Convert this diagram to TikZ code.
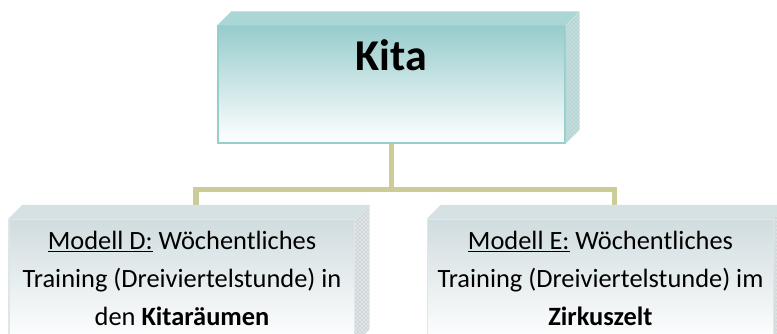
\documentclass[tikz,border=0pt]{standalone}
\usepackage{fontspec}
\setmainfont{Carlito}
\usetikzlibrary{patterns}
\usetikzlibrary{backgrounds}

\definecolor{kitateal}{RGB}{152,204,204}
\definecolor{kitaedge}{RGB}{150,205,205}
\definecolor{kitatop}{RGB}{170,214,214}
\definecolor{kitaside}{RGB}{196,222,222}
\definecolor{kitadots}{RGB}{140,175,175}
\definecolor{modgray}{RGB}{208,220,223}
\definecolor{modedge}{RGB}{222,230,232}
\definecolor{modtop}{RGB}{214,225,228}
\definecolor{modside}{RGB}{222,228,230}
\definecolor{moddots}{RGB}{165,172,175}
\definecolor{branch}{RGB}{204,204,153}

\begin{document}
\begin{tikzpicture}[x=0.75pt,y=0.75pt,
    kita node/.style={rectangle,draw=kitaedge,line width=1pt,inner xsep=0pt,inner ysep=0pt,
      top color=kitateal,middle color=kitateal!45,bottom color=white,
      minimum width=260.25pt,text height=33.75pt,text depth=54pt,
      font=\fontsize{33}{38}\selectfont\bfseries},
    model node/.style={rectangle,draw=modedge,line width=1pt,
      top color=modgray,bottom color=white,align=center,text depth=4.5pt,
      minimum width=259.5pt,minimum height=92.25pt,
      font=\fontsize{19.8}{28.5}\selectfont},
    branch line/.style={draw=branch,line width=4pt}]

  \useasboundingbox (0,0) rectangle (777,334);
  \clip (0,0) rectangle (777,334);

  \node[kita node,anchor=base](kita) at (391.5,263) {Kita};
  \node[model node](modD) at (182,53) {\underline{Modell D:} Wöchentliches\\Training (Dreiviertelstunde) in\\den \textbf{Kitaräumen}};
  \node[model node](modE) at (600.5,53) {\underline{Modell E:} Wöchentliches\\Training (Dreiviertelstunde) im\\\textbf{Zirkuszelt}};

  % depth faces
  \foreach \b/\c in {kita/kita,modD/mod,modE/mod} {
    \fill[\c top] (\b.north west) -- ++(14,14) -- ([shift={(14,14)}]\b.north east) -- (\b.north east) -- cycle;
    \fill[\c side] (\b.north east) -- ++(14,14) -- ([shift={(14,14)}]\b.south east) -- (\b.south east) -- cycle;
    \fill[pattern=crosshatch dots,pattern color=\c dots] (\b.north east) -- ++(14,14) -- ([shift={(14,14)}]\b.south east) -- (\b.south east) -- cycle;
  }

  \coordinate (split) at ([yshift=-34.5pt]kita.south);
  \coordinate (modDtop) at ([shift={(14,14)}]modD.north);
  \coordinate (modEtop) at ([shift={(14,14)}]modE.north);

  \begin{scope}[on background layer]
    \draw[branch line] (kita.south) -- (split) -| (modDtop);
    \draw[branch line] (split) -| (modEtop);
  \end{scope}
\end{tikzpicture}
\end{document}
